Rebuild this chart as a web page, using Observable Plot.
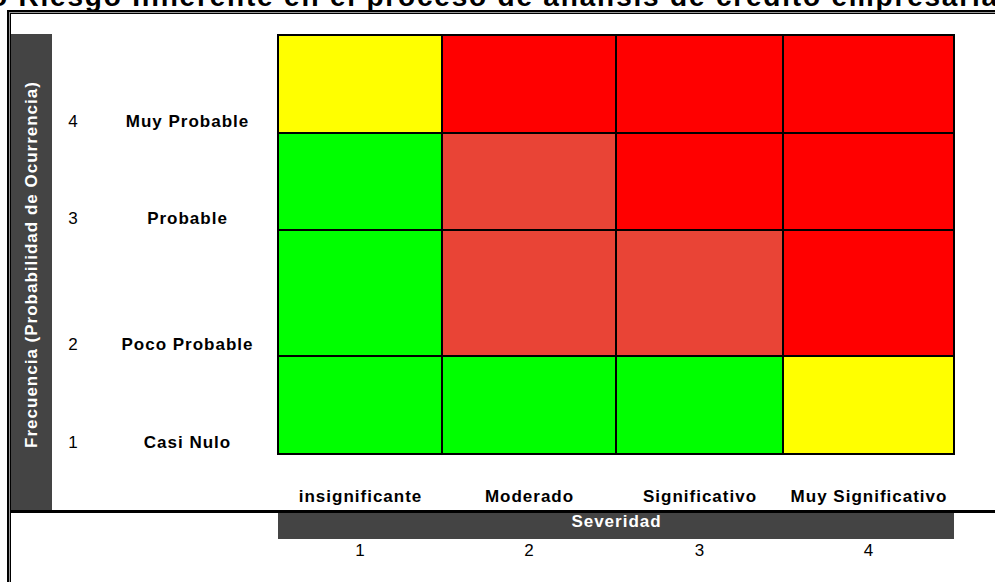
<!DOCTYPE html>
<html>
<head>
<meta charset="utf-8">
<script src="https://cdn.jsdelivr.net/npm/d3@7"></script>
<script src="https://cdn.jsdelivr.net/npm/@observablehq/plot@0.6"></script>
<style>
  html, body { margin: 0; padding: 0; background: #fff; }
  #wrap { position: relative; width: 995px; height: 582px; overflow: hidden; font-family: "Liberation Sans", Arial, sans-serif; }
  .deco { position: absolute; }
  #chart { position: absolute; left: 0; top: 0; }
</style>
</head>
<body>
<div id="wrap">
  <div class="deco" style="left:-10px; top:-17.5px; font-size:28px; line-height:28px; font-weight:bold; letter-spacing:1.8px; white-space:nowrap; color:#000;">o Riesgo Inherente en el proceso de análisis de crédito empresarial</div>
  <div class="deco" style="left:7px; top:10px; width:1100px; height:700px; border-left:2px solid #000; border-top:2px solid #000;"></div>
  <div class="deco" style="left:9px; top:12px; width:1100px; height:700px; border-left:1px solid #999; border-top:1px solid #999;"></div>
  <div class="deco" style="left:10px; top:13px; width:1100px; height:700px; border-left:1px solid #000; border-top:1px solid #000;"></div>
  <div class="deco" style="left:11px; top:34px; width:41px; height:476px; background:#444;"></div>
  <div class="deco" style="left:11px; top:510px; width:990px; height:3px; background:#000;"></div>
  <div class="deco" style="left:278px; top:513px; width:676px; height:26px; background:#444;"></div>
  <div id="chart"></div>
</div>
<script>
// Severity (x) categories
const severidad = ["insignificante", "Moderado", "Significativo", "Muy Significativo"];
const severidadNum = [1, 2, 3, 4];
// Frequency (y) categories, from 1 (bottom) to 4 (top)
const frecuencia = ["Casi Nulo", "Poco Probable", "Probable", "Muy Probable"];
const frecuenciaNum = [1, 2, 3, 4];
// Risk levels and their colours
const niveles = ["Bajo", "Medio", "Alto", "Extremo"];
const colores = ["#00FF00", "#FFFF00", "#E94436", "#FF0000"];
// riesgo[frecuencia-1][severidad-1]
const riesgo = [
  ["Bajo", "Bajo", "Bajo", "Medio"],          // Casi Nulo
  ["Bajo", "Alto", "Alto", "Extremo"],        // Poco Probable
  ["Bajo", "Alto", "Extremo", "Extremo"],     // Probable
  ["Medio", "Extremo", "Extremo", "Extremo"]  // Muy Probable
];
const tituloY = "Frecuencia (Probabilidad de Ocurrencia)";
const tituloX = "Severidad";

const cells = [];
frecuenciaNum.forEach((f, i) => severidadNum.forEach((s, j) => cells.push({f, s, nivel: riesgo[i][j]})));
const yLab = frecuenciaNum.map((f, i) => ({f, label: frecuencia[i]}));
const xLab = severidadNum.map((s, i) => ({s, label: severidad[i]}));

const bold = {fontWeight: "bold", fontSize: 17, fill: "#000"};

const chart = Plot.plot({
  width: 995,
  height: 582,
  marginTop: 34,
  marginRight: 41,
  marginBottom: 128,
  marginLeft: 278,
  style: {background: "transparent", fontFamily: "'Liberation Sans', Arial, sans-serif", overflow: "visible"},
  x: {type: "linear", domain: [0, 1, 2, 3, 4], range: [278, 442, 616, 783, 954], axis: null},
  y: {type: "linear", domain: [0, 1, 2, 3, 4], range: [454, 356, 230, 133, 35], axis: null},
  color: {type: "ordinal", domain: niveles, range: colores},
  marks: [
    Plot.rect(cells, {x1: d => d.s - 1, x2: d => d.s, y1: d => d.f - 1, y2: d => d.f, fill: "nivel", stroke: "#000", strokeWidth: 2}),
    // y tick numbers and names
    Plot.text(yLab, {frameAnchor: "left", y: d => d.f - 1, dy: -12, dx: -205, text: d => String(d.f), textAnchor: "middle", fontSize: 17, fill: "#000"}),
    Plot.text(yLab, {frameAnchor: "left", y: d => d.f - 1, dy: -12, dx: -91, text: "label", textAnchor: "middle", ...bold}),
    // x names and numbers
    Plot.text(xLab, {frameAnchor: "bottom", x: d => d.s - 0.5, dy: 47, text: "label", textAnchor: "middle", ...bold}),
    Plot.text(xLab, {frameAnchor: "bottom", x: d => d.s - 0.5, dy: 101, text: d => String(d.s), textAnchor: "middle", fontSize: 17, fill: "#000"}),
    // axis titles
    Plot.text([tituloX], {frameAnchor: "bottom", dy: 72, text: d => d, textAnchor: "middle", fontWeight: "bold", fontSize: 17, fill: "#fff"}),
    Plot.text([tituloY], {frameAnchor: "left", dx: -247, dy: 20, rotate: -90, text: d => d, textAnchor: "middle", fontWeight: "bold", fontSize: 17, fill: "#fff"})
  ]
});
chart.querySelectorAll("text").forEach(t => t.style.letterSpacing = "1px");
document.getElementById("chart").appendChild(chart);
</script>
</body>
</html>
